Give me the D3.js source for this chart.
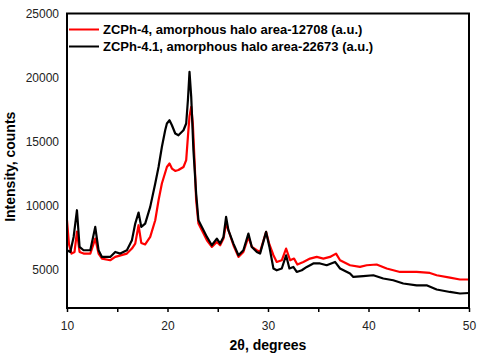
<!DOCTYPE html>
<html>
<head>
<meta charset="utf-8">
<script src="https://cdn.jsdelivr.net/npm/d3@7"></script>
<style>
  body { margin: 0; background: #fff; }
  text { font-family: Arial, "Liberation Sans", sans-serif; }
</style>
</head>
<body>
<div id="chart"></div>
<script>
// XRD patterns: [2theta, counts]
const seriesNames = ["ZCPh-4", "ZCPh-4.1"];
const haloAreas = ["12708", "22673"];
const seriesColors = ["#ff0000", "#000000"];

const zcph4 = [
  [10.0, 8890], [10.2, 7000], [10.45, 6290], [10.75, 6420], [10.99, 8000], [11.25, 6420],
  [11.65, 6290], [12.32, 6290], [12.81, 7460], [13.14, 6290], [13.48, 5900], [14.3, 5770],
  [14.8, 6030], [15.96, 6290], [16.46, 6680], [16.79, 7070], [17.12, 8500], [17.39, 7120],
  [17.78, 7000], [18.28, 7590], [18.78, 8890], [19.11, 10450], [19.44, 11750], [19.94, 13040],
  [20.2, 13310], [20.44, 12920], [20.77, 12730], [21.09, 12800], [21.59, 13040], [21.86, 13570],
  [22.03, 15380], [22.19, 17000], [22.36, 17720], [22.52, 16430], [22.72, 13040], [22.85, 10450],
  [23.08, 8630], [23.42, 8110], [23.92, 7330], [24.41, 6810], [24.91, 7200], [25.24, 6940],
  [25.57, 7460], [25.83, 8630], [26.06, 8110], [26.56, 6940], [27.06, 6030], [27.55, 6420],
  [28.05, 7590], [28.39, 6810], [28.89, 6550], [29.21, 6420], [29.81, 7980], [30.14, 7000],
  [30.54, 6160], [30.87, 5640], [31.37, 5770], [31.8, 6680], [32.2, 5770], [32.59, 5900],
  [32.92, 5440], [33.52, 5640], [34.18, 5900], [34.85, 6030], [35.51, 5900], [36.17, 6030],
  [36.77, 6290], [37.17, 5770], [38.16, 5380], [39.15, 5250], [39.82, 5380], [40.81, 5440],
  [41.81, 5130], [43.13, 4860], [44.79, 4860], [46.11, 4780], [46.78, 4600], [48.1, 4420],
  [49.1, 4270], [50.0, 4270]
];

const zcph41 = [
  [10.0, 6550], [10.33, 6420], [10.66, 7590], [10.99, 9670], [11.25, 6810], [11.65, 6550],
  [12.32, 6550], [12.81, 8370], [13.14, 6550], [13.48, 6030], [14.3, 6030], [14.8, 6420],
  [15.3, 6290], [15.96, 6550], [16.46, 7330], [16.79, 8630], [17.12, 9490], [17.39, 8370],
  [17.78, 8630], [18.28, 9930], [18.78, 11750], [19.11, 13040], [19.44, 14600], [19.77, 15900],
  [19.94, 16430], [20.2, 16680], [20.44, 16290], [20.77, 15650], [21.09, 15510], [21.59, 15900],
  [21.86, 16430], [22.03, 18240], [22.19, 20450], [22.36, 18500], [22.58, 14350], [22.85, 10970],
  [23.08, 8890], [23.42, 8370], [23.92, 7590], [24.41, 6940], [24.91, 7460], [25.24, 7070],
  [25.57, 7590], [25.83, 9150], [26.06, 8110], [26.56, 7070], [27.06, 6160], [27.55, 6550],
  [28.05, 7850], [28.39, 6810], [28.89, 6420], [29.21, 6290], [29.81, 7980], [30.14, 6810],
  [30.54, 5130], [30.87, 4990], [31.37, 5130], [31.8, 6160], [32.13, 5130], [32.52, 5250],
  [32.86, 4860], [33.36, 4990], [33.86, 5250], [34.51, 5520], [35.18, 5520], [35.84, 5380],
  [36.67, 5640], [37.17, 5130], [38.16, 4740], [38.49, 4470], [39.48, 4530], [40.48, 4600],
  [41.47, 4350], [42.46, 4210], [43.46, 3960], [44.79, 3820], [45.78, 3820], [46.78, 3490],
  [48.1, 3300], [49.1, 3180], [50.0, 3220]
];

const xTicks = [10, 15, 20, 25, 30, 35, 40, 45, 50];
const xLabels = [10, 20, 30, 40, 50];
const yTicks = [5000, 10000, 15000, 20000, 25000];

const width = 480;
const height = 359;
const margin = { top: 13.5, right: 11, bottom: 51, left: 67 };
const innerW = width - margin.left - margin.right;
const innerH = height - margin.top - margin.bottom;

const svg = d3.select("#chart")
  .append("svg")
  .attr("width", width)
  .attr("height", height);

const g = svg.append("g")
  .attr("transform", `translate(${margin.left},${margin.top})`);

const x = d3.scaleLinear().domain([10, 50]).range([0, innerW]);
const y = d3.scaleLinear().domain([2050, 25000]).range([innerH, 0]);

// curves
const line = d3.line()
  .x(d => x(d[0]))
  .y(d => y(d[1]));

[zcph4, zcph41].forEach((data, i) => {
  g.append("path")
    .datum(data)
    .attr("fill", "none")
    .attr("stroke", seriesColors[i])
    .attr("stroke-width", 2.2)
    .attr("stroke-linejoin", "round")
    .attr("d", line);
});

// axes
const xAxis = g.append("g")
  .attr("transform", `translate(0,${innerH})`)
  .call(d3.axisBottom(x)
    .tickValues(xTicks)
    .tickSize(4)
    .tickSizeOuter(0)
    .tickPadding(9)
    .tickFormat(d => xLabels.includes(d) ? d : ""));

const yAxis = g.append("g")
  .call(d3.axisLeft(y)
    .tickValues(yTicks)
    .tickSize(0)
    .tickPadding(8)
    .tickFormat(d3.format("d")));

[xAxis, yAxis].forEach(a => {
  a.select(".domain").remove();
  a.selectAll("line").attr("stroke", "#000").attr("stroke-width", 1.5);
  a.selectAll("text")
    .attr("font-size", 12)
    .attr("fill", "#222")
    .attr("font-family", "Arial, 'Liberation Sans', sans-serif");
});

// frame
g.append("rect")
  .attr("width", innerW)
  .attr("height", innerH)
  .attr("fill", "none")
  .attr("stroke", "#000")
  .attr("stroke-width", 2);

// legend
const legend = g.append("g");
seriesNames.forEach((name, i) => {
  const ly = 16 + i * 17;
  legend.append("line")
    .attr("x1", 2).attr("x2", 32)
    .attr("y1", ly).attr("y2", ly)
    .attr("stroke", seriesColors[i])
    .attr("stroke-width", 2);
  const t = legend.append("text")
    .attr("x", 36)
    .attr("y", ly + 4)
    .attr("font-size", 13)
    .attr("font-weight", "bold")
    .attr("fill", "#000");
  t.append("tspan").text(name);
  t.append("tspan").text(`, amorphous halo area-${haloAreas[i]} (a.u.)`);
});

// axis titles
svg.append("text")
  .attr("x", margin.left + innerW / 2)
  .attr("y", 350)
  .attr("text-anchor", "middle")
  .attr("font-size", 14)
  .attr("font-weight", "bold")
  .text("2θ, degrees");

svg.append("text")
  .attr("transform", `translate(15,${margin.top + innerH / 2 + 6}) rotate(-90)`)
  .attr("text-anchor", "middle")
  .attr("font-size", 14)
  .attr("font-weight", "bold")
  .text("Intensity, counts");
</script>
</body>
</html>
